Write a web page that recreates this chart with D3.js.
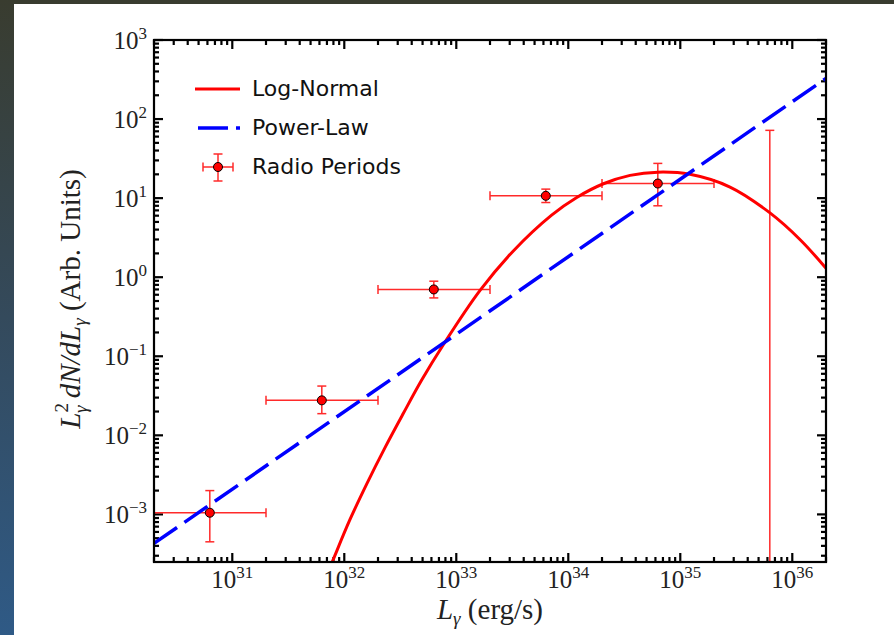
<!DOCTYPE html>
<html>
<head>
<meta charset="utf-8">
<script src="https://cdn.jsdelivr.net/npm/d3@7/dist/d3.min.js"></script>
<style>
  body { margin: 0; background: #fff; }
  svg { display: block; }
</style>
</head>
<body>
<svg id="chart" width="894" height="635"></svg>
<script>
// ---- data ----
const binLow     = [2e30, 2e31, 2e32, 2e33, 2e34, 2e35];
const binHigh    = [2e31, 2e32, 2e33, 2e34, 2e35, 2e36];
const binCenter  = [6.3e30, 6.3e31, 6.3e32, 6.3e33, 6.3e34, 6.3e35];
const radioValue = [1.05e-3, 0.0277, 0.70, 10.7, 15.3, 1e-5];
const radioLow   = [4.5e-4, 0.0188, 0.547, 8.8, 8.0, 1e-6];
const radioHigh  = [2.0e-3, 0.042, 0.89, 13.0, 27.5, 72];

const logNormalL = [6.7e31, 7.8e31, 1.12e32, 1.58e32, 2.31e32, 3.37e32, 4.91e32, 7.66e32,
                    1.63e33, 3.23e33, 7.1e33, 1.19e34, 2.06e34, 3.56e34, 6.32e34, 1.22e35,
                    2.78e35, 6.32e35, 1.17e36, 2.0e36];
const logNormalY = [1.5e-4, 2.5e-4, 8.5e-4, 2.4e-3, 7.0e-3, 0.019, 0.050, 0.14,
                    0.68, 2.15, 6.1, 10.2, 15.2, 19.4, 21.3, 20.0,
                    13.8, 6.5, 3.0, 1.3];

const powerLawL = [2e30, 2e36];
const powerLawY = [4.3e-4, 327];

const xExponents = [31, 32, 33, 34, 35, 36];
const yExponents = [-3, -2, -1, 0, 1, 2, 3];
const legendLabels = ["Log-Normal", "Power-Law", "Radio Periods"];

// ---- layout ----
const svg = d3.select("#chart");
const pLeft = 154, pRight = 826, pTop = 40, pBottom = 562;

const x = d3.scaleLog().domain([2e30, 2e36]).range([pLeft, pRight]);
const y = d3.scaleLog().domain([2.5e-4, 1e3]).range([pBottom, pTop]);

// dark window edge around the figure
const defs = svg.append("defs");
const grad = defs.append("linearGradient").attr("id", "edge")
  .attr("x1", 0).attr("y1", 0).attr("x2", 0).attr("y2", 1);
grad.append("stop").attr("offset", "0%").attr("stop-color", "#393c2f");
grad.append("stop").attr("offset", "50%").attr("stop-color", "#344a5c");
grad.append("stop").attr("offset", "100%").attr("stop-color", "#2f5a86");
svg.append("rect").attr("x", 0).attr("y", 0).attr("width", 894).attr("height", 4).attr("fill", "#393c2f");
svg.append("rect").attr("x", 0).attr("y", 0).attr("width", 14).attr("height", 635).attr("fill", "url(#edge)");

defs.append("clipPath").attr("id", "plotClip")
  .append("rect").attr("x", pLeft).attr("y", pTop).attr("width", pRight - pLeft).attr("height", pBottom - pTop);

// ---- ticks (inward, on all four sides) ----
function minors(lo, hi) {
  const out = [];
  for (let e = Math.floor(Math.log10(lo)); e <= Math.ceil(Math.log10(hi)); e++) {
    for (let m = 2; m <= 9; m++) {
      const v = m * Math.pow(10, e);
      if (v >= lo && v <= hi) out.push(v);
    }
  }
  return out;
}
const xTicks = xExponents.map(e => ({ v: Math.pow(10, e), len: 9 }))
  .concat(minors(2e30, 2e36).map(v => ({ v, len: 5 })));
const yTicks = yExponents.map(e => ({ v: Math.pow(10, e), len: 9 }))
  .concat(minors(2.5e-4, 1e3).map(v => ({ v, len: 5 })));

const tg = svg.append("g").attr("stroke", "#000").attr("stroke-width", 2.2);
tg.selectAll("line.xb").data(xTicks).enter().append("line")
  .attr("x1", d => x(d.v)).attr("x2", d => x(d.v))
  .attr("y1", pBottom).attr("y2", d => pBottom - d.len);
tg.selectAll("line.xt").data(xTicks).enter().append("line")
  .attr("x1", d => x(d.v)).attr("x2", d => x(d.v))
  .attr("y1", pTop).attr("y2", d => pTop + d.len);
tg.selectAll("line.yl").data(yTicks).enter().append("line")
  .attr("y1", d => y(d.v)).attr("y2", d => y(d.v))
  .attr("x1", pLeft).attr("x2", d => pLeft + d.len);
tg.selectAll("line.yr").data(yTicks).enter().append("line")
  .attr("y1", d => y(d.v)).attr("y2", d => y(d.v))
  .attr("x1", pRight).attr("x2", d => pRight - d.len);

// tick labels 10^n
const serif = "'Liberation Serif', 'Times New Roman', serif";
xExponents.forEach(e => {
  const t = svg.append("text")
    .attr("x", x(Math.pow(10, e))).attr("y", 588)
    .attr("text-anchor", "middle")
    .attr("font-family", serif).attr("font-size", 25).attr("fill", "#222");
  t.append("tspan").text("10");
  t.append("tspan").attr("font-size", 17).attr("dy", -10).text(e);
});
yExponents.forEach(e => {
  const t = svg.append("text")
    .attr("x", 147).attr("y", y(Math.pow(10, e)) + 9)
    .attr("text-anchor", "end")
    .attr("font-family", serif).attr("font-size", 25).attr("fill", "#222");
  t.append("tspan").text("10");
  t.append("tspan").attr("font-size", 17).attr("dy", -10).text(e < 0 ? "\u2212" + (-e) : e);
});

// axis titles
const xl = svg.append("text").attr("x", 490).attr("y", 619).attr("text-anchor", "middle")
  .attr("font-family", serif).attr("font-size", 29).attr("fill", "#222");
xl.append("tspan").attr("font-style", "italic").text("L");
xl.append("tspan").attr("font-style", "italic").attr("font-size", 19).attr("dy", 6).text("\u03B3");
xl.append("tspan").attr("dy", -6).text(" (erg/s)");

const yl = svg.append("text").attr("transform", "translate(80,299) rotate(-90)")
  .attr("text-anchor", "middle")
  .attr("font-family", serif).attr("font-size", 29).attr("fill", "#222");
yl.append("tspan").attr("font-style", "italic").text("L");
yl.append("tspan").attr("font-size", 19).attr("dy", -12).text("2");
yl.append("tspan").attr("font-style", "italic").attr("font-size", 19).attr("dx", -10).attr("dy", 19).text("\u03B3");
yl.append("tspan").attr("font-style", "italic").attr("dy", -7).text(" dN/dL");
yl.append("tspan").attr("font-style", "italic").attr("font-size", 19).attr("dy", 6).text("\u03B3");
yl.append("tspan").attr("dy", -6).text(" (Arb. Units)");

// ---- plotted data ----
const plot = svg.append("g").attr("clip-path", "url(#plotClip)");
const errColor = "#ff2a2a";
const points = binCenter.map((c, i) => ({
  c, lo: binLow[i], hi: binHigh[i], v: radioValue[i], eLo: radioLow[i], eHi: radioHigh[i]
}));

const eb = plot.selectAll("g.eb").data(points).enter().append("g")
  .attr("stroke", errColor).attr("stroke-width", 1.5).attr("fill", "none");
eb.append("line").attr("x1", d => x(d.c)).attr("x2", d => x(d.c))
  .attr("y1", d => y(d.eHi)).attr("y2", d => y(d.eLo));
eb.append("line").attr("x1", d => x(d.c) - 4.5).attr("x2", d => x(d.c) + 4.5)
  .attr("y1", d => y(d.eHi)).attr("y2", d => y(d.eHi));
eb.append("line").attr("x1", d => x(d.c) - 4.5).attr("x2", d => x(d.c) + 4.5)
  .attr("y1", d => y(d.eLo)).attr("y2", d => y(d.eLo));
eb.append("line").attr("x1", d => x(d.lo)).attr("x2", d => x(d.hi))
  .attr("y1", d => y(d.v)).attr("y2", d => y(d.v));
eb.append("line").attr("x1", d => x(d.lo)).attr("x2", d => x(d.lo))
  .attr("y1", d => y(d.v) - 4.5).attr("y2", d => y(d.v) + 4.5);
eb.append("line").attr("x1", d => x(d.hi)).attr("x2", d => x(d.hi))
  .attr("y1", d => y(d.v) - 4.5).attr("y2", d => y(d.v) + 4.5);

plot.selectAll("circle.pt").data(points).enter().append("circle")
  .attr("cx", d => x(d.c)).attr("cy", d => y(d.v)).attr("r", 4.5)
  .attr("fill", "#ff0000").attr("stroke", "#000").attr("stroke-width", 1);

const line = d3.line().x(d => x(d[0])).y(d => y(d[1]));

plot.append("path")
  .datum(logNormalL.map((l, i) => [l, logNormalY[i]]))
  .attr("d", line.curve(d3.curveCatmullRom.alpha(0.5)))
  .attr("fill", "none").attr("stroke", "#ff0000").attr("stroke-width", 3);

plot.append("path")
  .datum(powerLawL.map((l, i) => [l, powerLawY[i]]))
  .attr("d", d3.line().x(d => x(d[0])).y(d => y(d[1])))
  .attr("fill", "none").attr("stroke", "#0000ff").attr("stroke-width", 3.5)
  .attr("stroke-dasharray", "28,9");

// frame
svg.append("rect").attr("x", pLeft).attr("y", pTop)
  .attr("width", pRight - pLeft).attr("height", pBottom - pTop)
  .attr("fill", "none").attr("stroke", "#000").attr("stroke-width", 2.2);

// ---- legend ----
const sans = "'DejaVu Sans', sans-serif";
const legY = [89, 128, 167];
const leg = svg.append("g");
leg.append("line").attr("x1", 195).attr("x2", 240).attr("y1", legY[0]).attr("y2", legY[0])
  .attr("stroke", "#ff0000").attr("stroke-width", 3);
leg.append("line").attr("x1", 198).attr("x2", 240).attr("y1", legY[1]).attr("y2", legY[1])
  .attr("stroke", "#0000ff").attr("stroke-width", 3.5).attr("stroke-dasharray", "30,8");
const lg = leg.append("g").attr("stroke", errColor).attr("stroke-width", 1.5);
lg.append("line").attr("x1", 203).attr("x2", 233).attr("y1", legY[2]).attr("y2", legY[2]);
lg.append("line").attr("x1", 218).attr("x2", 218).attr("y1", legY[2] - 13).attr("y2", legY[2] + 14);
lg.append("line").attr("x1", 213.5).attr("x2", 222.5).attr("y1", legY[2] - 13).attr("y2", legY[2] - 13);
lg.append("line").attr("x1", 213.5).attr("x2", 222.5).attr("y1", legY[2] + 14).attr("y2", legY[2] + 14);
lg.append("line").attr("x1", 203).attr("x2", 203).attr("y1", legY[2] - 4.5).attr("y2", legY[2] + 4.5);
lg.append("line").attr("x1", 233).attr("x2", 233).attr("y1", legY[2] - 4.5).attr("y2", legY[2] + 4.5);
leg.append("circle").attr("cx", 218).attr("cy", legY[2]).attr("r", 4.5)
  .attr("fill", "#ff0000").attr("stroke", "#000").attr("stroke-width", 1);

legendLabels.forEach((s, i) => {
  leg.append("text").attr("x", 252).attr("y", legY[i] + 7)
    .attr("font-family", sans).attr("font-size", 22).attr("fill", "#111").text(s);
});
</script>
</body>
</html>
